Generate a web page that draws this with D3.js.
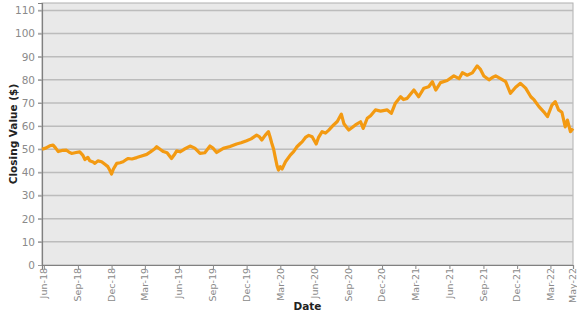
<!DOCTYPE html>
<html>
<head>
<meta charset="utf-8">
<script src="https://cdn.jsdelivr.net/npm/d3@7"></script>
<style>
  body { margin: 0; background: #fff; }
  text { font-family: "DejaVu Sans", Verdana, sans-serif; }
</style>
</head>
<body>
<div class="container"></div>
<script>
// closing values, one date per value
const dates = [
  "2018-05-27", "2018-06-06", "2018-06-17", "2018-06-26", "2018-07-03", "2018-07-10", "2018-07-20",
  "2018-08-01", "2018-08-08", "2018-08-15", "2018-08-27", "2018-09-06", "2018-09-14", "2018-09-20",
  "2018-09-28", "2018-10-03", "2018-10-12", "2018-10-17", "2018-10-25", "2018-11-04", "2018-11-13",
  "2018-11-21", "2018-11-26", "2018-12-01", "2018-12-06", "2018-12-15", "2018-12-24", "2019-01-01",
  "2019-01-09", "2019-01-15", "2019-01-25", "2019-02-07", "2019-02-18", "2019-03-06", "2019-03-17",
  "2019-03-26", "2019-04-02", "2019-04-11", "2019-04-20", "2019-04-30", "2019-05-12", "2019-05-19",
  "2019-05-26", "2019-06-04", "2019-06-15", "2019-07-01", "2019-07-14", "2019-07-28", "2019-08-10",
  "2019-08-24", "2019-09-01", "2019-09-11", "2019-09-20", "2019-09-29", "2019-10-17", "2019-11-04",
  "2019-11-16", "2019-12-01", "2019-12-13", "2019-12-28", "2020-01-04", "2020-01-11", "2020-01-20",
  "2020-01-29", "2020-02-02", "2020-02-07", "2020-02-12", "2020-02-16", "2020-02-21", "2020-02-25",
  "2020-03-01", "2020-03-06", "2020-03-15", "2020-03-28", "2020-04-06", "2020-04-15", "2020-04-24",
  "2020-04-29", "2020-05-08", "2020-05-17", "2020-05-26", "2020-06-06", "2020-06-12", "2020-06-22",
  "2020-07-01", "2020-07-10", "2020-07-23", "2020-08-02", "2020-08-13", "2020-08-20", "2020-08-27",
  "2020-09-02", "2020-09-12", "2020-09-20", "2020-10-04", "2020-10-11", "2020-10-22", "2020-10-31",
  "2020-11-13", "2020-11-27", "2020-12-15", "2020-12-26", "2021-01-06", "2021-01-20", "2021-01-28",
  "2021-02-07", "2021-02-25", "2021-03-10", "2021-03-24", "2021-04-06", "2021-04-16", "2021-04-25",
  "2021-05-08", "2021-05-26", "2021-06-13", "2021-06-27", "2021-07-06", "2021-07-19", "2021-08-02",
  "2021-08-15", "2021-08-24", "2021-09-02", "2021-09-16", "2021-09-25", "2021-10-04", "2021-10-17",
  "2021-10-31", "2021-11-13", "2021-11-27", "2021-12-10", "2021-12-24", "2022-01-07", "2022-01-16",
  "2022-01-29", "2022-02-11", "2022-02-21", "2022-03-05", "2022-03-14", "2022-03-23", "2022-04-01",
  "2022-04-10", "2022-04-16", "2022-04-24", "2022-05-01"
];
const closes = [
  50.0, 50.5, 51.5, 51.8, 50.5, 49.0, 49.5,
  49.6, 48.8, 48.2, 48.6, 48.9, 47.5, 45.6,
  46.5, 45.0, 44.5, 43.9, 45.0, 44.6, 43.5,
  42.5, 41.0, 39.3, 41.5, 43.9, 44.2, 44.6,
  45.5, 46.0, 45.8, 46.4, 47.0, 47.8, 49.0,
  50.0, 51.1, 50.0, 49.0, 48.5, 46.0, 47.5,
  49.3, 48.9, 50.0, 51.4, 50.5, 48.2, 48.5,
  51.4, 50.5, 48.6, 49.5, 50.4, 51.2, 52.3,
  52.8, 53.7, 54.5, 56.1, 55.5, 54.0, 56.0,
  57.6, 55.5, 52.6, 50.0, 46.8, 43.0, 41.0,
  42.5, 41.5, 44.6, 47.5, 49.0, 51.1, 52.5,
  53.2, 55.1, 56.0, 55.4, 52.3, 55.0, 57.6,
  57.0, 58.3, 60.5, 62.0, 65.2, 61.0, 59.5,
  58.3, 59.5, 60.5, 61.9, 59.0, 63.4, 64.5,
  67.0, 66.5, 67.0, 65.5, 69.9, 72.7, 71.5,
  72.0, 75.6, 72.7, 76.4, 77.0, 79.2, 75.6,
  78.8, 79.7, 81.7, 80.5, 83.1, 82.0, 83.0,
  86.0, 84.5, 81.7, 80.0, 81.0, 81.7, 80.5,
  79.2, 74.2, 76.8, 78.5, 76.4, 72.7, 71.3,
  68.4, 66.2, 64.1, 69.1, 70.6, 67.0, 66.0,
  59.7, 62.6, 57.6, 59.0
];
const xTickDates = [
  "2018-06-01", "2018-09-01", "2018-12-01", "2019-03-01", "2019-06-01", "2019-09-01",
  "2019-12-01", "2020-03-01", "2020-06-01", "2020-09-01", "2020-12-01", "2021-03-01",
  "2021-06-01", "2021-09-01", "2021-12-01", "2022-03-01", "2022-05-01"
];
const yTicks = [0, 10, 20, 30, 40, 50, 60, 70, 80, 90, 100, 110];

const parse = d3.timeParse("%Y-%m-%d");
const data = dates.map((d, i) => ({ date: parse(d), value: closes[i] }));

const margin = { top: 3, right: 4, bottom: 50, left: 42 };
const totalW = 577, totalH = 315;
const width = totalW - margin.left - margin.right;
const height = totalH - margin.top - margin.bottom;

const svg = d3.select(".container")
  .append("svg")
  .attr("width", totalW)
  .attr("height", totalH);

const g = svg.append("g")
  .attr("transform", `translate(${margin.left}, ${margin.top})`);

const x = d3.scaleTime()
  .domain([data[0].date, data[data.length - 1].date])
  .range([0, width]);
const y = d3.scaleLinear().domain([0, 113.2]).range([height, 0]);

// plot background
g.append("rect")
  .attr("width", width)
  .attr("height", height)
  .attr("fill", "#e9e9e9")
  .attr("stroke", "#b0b0b0");

// horizontal grid lines
g.selectAll(".grid")
  .data(yTicks.slice(1))
  .enter()
  .append("line")
  .attr("x1", -4)
  .attr("x2", width)
  .attr("y1", (d) => y(d))
  .attr("y2", (d) => y(d))
  .attr("stroke", "#bcbcbc")
  .attr("stroke-width", 1.5);

// y axis
const yAxis = g.append("g")
  .call(d3.axisLeft(y).tickValues(yTicks).tickSize(4).tickPadding(3));
yAxis.select(".domain").attr("stroke", "#808080").attr("stroke-width", 1.2);
yAxis.selectAll(".tick line").attr("stroke", "#999");
yAxis.selectAll("text")
  .attr("fill", "#8a8a8a")
  .style("font-size", "10.5px");

// x axis
const xAxis = g.append("g")
  .attr("transform", `translate(0, ${height})`)
  .call(d3.axisBottom(x)
    .tickValues(xTickDates.map(parse))
    .tickFormat(d3.timeFormat("%b-%y"))
    .tickSize(4));
xAxis.select(".domain").attr("stroke", "#808080").attr("stroke-width", 1.2);
xAxis.selectAll(".tick line").attr("stroke", "#888");
xAxis.selectAll("text")
  .attr("fill", "#8a8a8a")
  .style("font-size", "9.5px")
  .style("text-anchor", "end")
  .attr("x", -3)
  .attr("y", 0)
  .attr("dy", "0.3em")
  .attr("transform", "rotate(-90)");

// the price line
const line = d3.line()
  .x((d) => x(d.date))
  .y((d) => y(d.value));

g.append("path")
  .datum(data)
  .attr("d", line)
  .attr("fill", "none")
  .attr("stroke", "#f39a12")
  .attr("stroke-width", 3.2)
  .attr("stroke-linejoin", "round");

// axis titles
svg.append("text")
  .attr("transform", `translate(17, ${margin.top + height / 2}) rotate(-90)`)
  .style("text-anchor", "middle")
  .style("font-size", "10.5px")
  .style("font-weight", "bold")
  .attr("fill", "#222")
  .text("Closing Value ($)");

svg.append("text")
  .attr("x", margin.left + width / 2)
  .attr("y", 310)
  .style("text-anchor", "middle")
  .style("font-size", "10.5px")
  .style("font-weight", "bold")
  .attr("fill", "#222")
  .text("Date");
</script>
</body>
</html>
